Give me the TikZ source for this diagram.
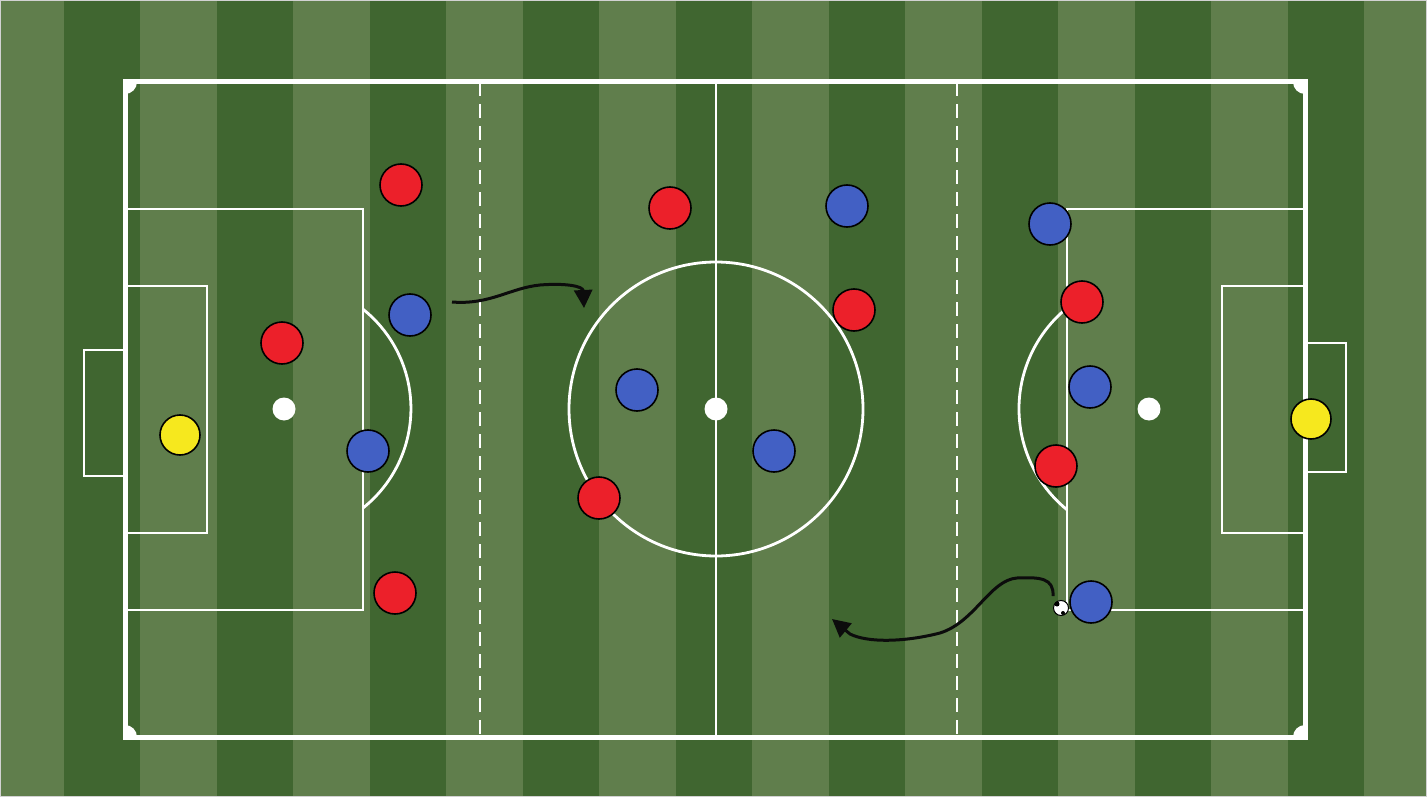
\documentclass[tikz,border=0pt]{standalone}
\usetikzlibrary{arrows.meta}
\definecolor{grassL}{RGB}{96,126,76}
\definecolor{grassD}{RGB}{64,102,48}
\definecolor{pred}{RGB}{236,32,42}
\definecolor{pblue}{RGB}{66,96,196}
\definecolor{pyel}{RGB}{246,232,30}
\definecolor{ink}{RGB}{12,12,12}
\tikzset{
  outerline/.style={draw=white,line width=5pt},
  innerline/.style={draw=white,line width=2.8pt},
  thirdline/.style={draw=white,line width=2.8pt,dash pattern=on 14pt off 8pt},
  player/.style={circle,draw=black,line width=1.6pt,minimum size=42pt,inner sep=0pt},
  redp/.style={player,fill=pred},
  bluep/.style={player,fill=pblue},
  keeper/.style={player,fill=pyel,minimum size=40pt},
  spot/.style={circle,fill=white,minimum size=23pt,inner sep=0pt},
  ballnode/.style={circle,fill=white,draw=black,line width=1pt,minimum size=15pt,inner sep=0pt},
  run/.style={draw=ink,line width=3pt,-{Triangle[length=18pt,width=18pt]}}
}
\begin{document}
\begin{tikzpicture}[x=1pt,y=-1pt]
\useasboundingbox (0,0) rectangle (1427,797);
% grass
\fill[grassL] (0,0) rectangle (1427,797);
\foreach \s in {64,217,...,1300} \fill[grassD] (\s,0) rectangle ++(76,797);
\draw[gray!35,line width=2.5pt] (0,0) rectangle (1427,797);
% pitch lines
\draw[outerline] (125,82) rectangle (1305,737);
\draw[innerline] (716,82) -- (716,737);
\draw[thirdline] (480,82) -- (480,737);
\draw[thirdline] (957,82) -- (957,737);
\draw[innerline] (716,409) circle (147pt);
% left end
\draw[innerline] (125,209) rectangle (363,610);
\draw[innerline] (125,286) rectangle (207,533);
\draw[innerline] (125,350) -- (84,350) -- (84,476) -- (125,476);
\draw[innerline] (363,508) arc[start angle=-51.5,end angle=51.5,radius=127pt];
% right end
\draw[innerline] (1305,209) -- (1067,209) -- (1067,610) -- (1305,610);
\draw[innerline] (1305,286) -- (1222,286) -- (1222,533) -- (1305,533);
\draw[innerline] (1305,343) -- (1346,343) -- (1346,472) -- (1305,472);
\draw[innerline] (1067,308) arc[start angle=129.1,end angle=230.9,radius=130pt];
% corners
\fill[white] (125,82) -- (137,82) arc[start angle=0,end angle=-90,radius=12pt] -- cycle;
\fill[white] (1305,82) -- (1293,82) arc[start angle=180,end angle=270,radius=12pt] -- cycle;
\fill[white] (125,737) -- (137,737) arc[start angle=0,end angle=90,radius=12pt] -- cycle;
\fill[white] (1305,737) -- (1293,737) arc[start angle=180,end angle=90,radius=12pt] -- cycle;
% spots
\node[spot] (cs) at (716,409) {};
\node[spot] (lps) at (284,409) {};
\node[spot] (rps) at (1149,409) {};
% ball
\node[ballnode] (ball) at (1061,608) {};
\fill[black] (1057,604) circle (2.5pt) (1063,613) circle (2pt);
% keepers
\node[keeper] (y1) at (180,435) {};
\node[keeper] (y2) at (1311,419) {};
% red team
\node[redp] (r1) at (401,185) {};
\node[redp] (r2) at (282,343) {};
\node[redp] (r3) at (395,593) {};
\node[redp] (r4) at (670,208) {};
\node[redp] (r5) at (599,498) {};
\node[redp] (r6) at (854,310) {};
\node[redp] (r7) at (1082,302) {};
\node[redp] (r8) at (1056,466) {};
% blue team
\node[bluep] (b1) at (410,315) {};
\node[bluep] (b2) at (368,451) {};
\node[bluep] (b3) at (637,390) {};
\node[bluep] (b4) at (774,451) {};
\node[bluep] (b5) at (847,206) {};
\node[bluep] (b6) at (1050,224) {};
\node[bluep] (b7) at (1090,387) {};
\node[bluep] (b8) at (1091,602) {};
% runs
\coordinate (a1s) at (452,302);
\coordinate (a1e) at (584,308);
\draw[run] (a1s) .. controls (490,305) and (510,288) .. (540,285)
  .. controls (565,283) and (583,286) .. (a1e);
\coordinate (a2s) at (1053,596);
\coordinate (a2e) at (832,619);
\draw[run] (a2s) .. controls (1054,578) and (1040,577) .. (1017,578)
  .. controls (990,580) and (975,622) .. (940,633)
  .. controls (905,642) and (868,643) .. (850,634) -- (a2e);
\end{tikzpicture}
\end{document}
